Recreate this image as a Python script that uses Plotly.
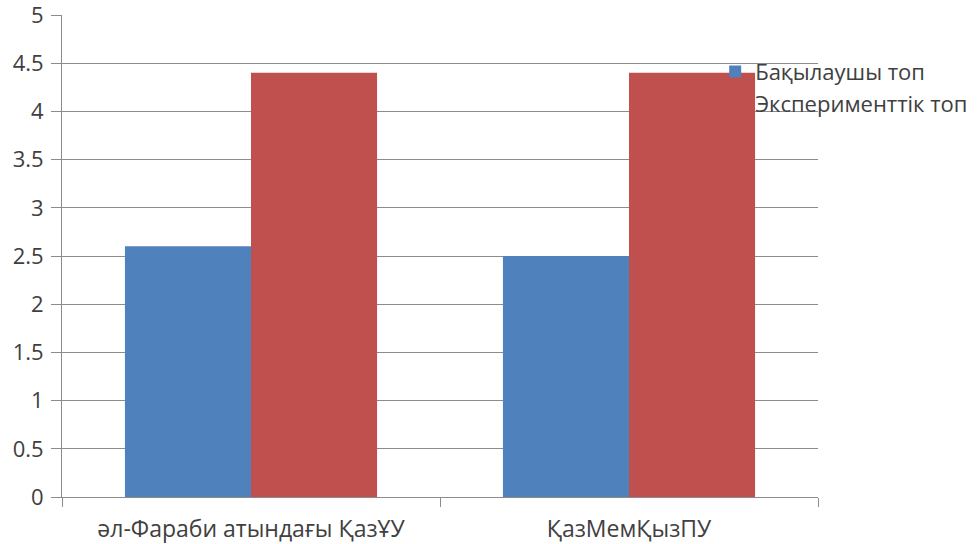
import plotly.graph_objects as go

categories = ["әл-Фараби атындағы ҚазҰУ", "ҚазМемҚызПУ"]
series_names = ["Бақылаушы топ", "Эксперименттік топ"]
control_values = [2.6, 2.5]
experimental_values = [4.4, 4.4]
y_ticks = [0, 0.5, 1, 1.5, 2, 2.5, 3, 3.5, 4, 4.5, 5]
y_tick_labels = ["0", "0.5", "1", "1.5", "2", "2.5", "3", "3.5", "4", "4.5", "5"]

fig = go.Figure()
fig.add_trace(go.Bar(x=categories, y=control_values, name=series_names[0],
                     marker=dict(color="#4F81BD", line=dict(width=0))))
fig.add_trace(go.Bar(x=categories, y=experimental_values, name=series_names[1],
                     marker=dict(color="#C0504D", line=dict(width=0))))

fig.update_layout(
    width=979, height=544,
    margin=dict(l=62, r=161, t=15, b=47, autoexpand=False),
    paper_bgcolor="white", plot_bgcolor="white",
    font=dict(family="Open Sans", size=22, color="#404040"),
    barmode="group", bargap=0.333, bargroupgap=0,
    showlegend=True,
    legend=dict(x=0.864, y=0.926, xanchor="left", yanchor="top",
                bgcolor="rgba(0,0,0,0)", font=dict(size=22, color="#404040"),
                itemwidth=30, tracegroupgap=0),
    xaxis=dict(showline=True, linecolor="#8c8c8c", linewidth=1,
               ticks="outside", tickson="boundaries", ticklen=9, tickcolor="#8c8c8c",
               showgrid=False, tickfont=dict(size=23), automargin=False,
               ticklabelstandoff=11),
    yaxis=dict(range=[0, 5], tickvals=y_ticks, ticktext=y_tick_labels,
               showline=True, linecolor="#8c8c8c", linewidth=1,
               ticks="outside", ticklen=10, tickcolor="#8c8c8c",
               showgrid=True, gridcolor="#8c8c8c", gridwidth=1,
               zeroline=False, tickfont=dict(size=22), automargin=False,
               ticklabelstandoff=3, ticklabeloverflow="allow"),
)

fig.write_html("out.html", config={"displayModeBar": False},
               post_script="document.body.style.margin='0';")
